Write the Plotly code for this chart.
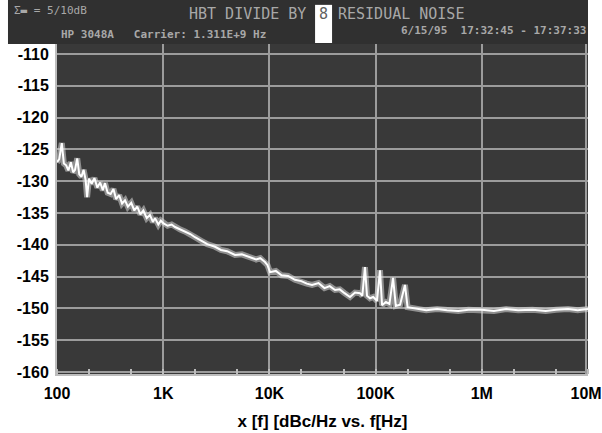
import plotly.graph_objects as go

# ---- data ----
freq_hz = [100, 105, 111, 116, 122, 128, 135, 142, 148, 155, 162, 170, 178, 186, 192,
           200, 212, 225, 240, 255, 270, 283, 300, 320, 340, 360, 385, 410, 437, 465,
           500, 535, 570, 610, 650, 700, 750, 800, 837, 900, 950, 1000, 1100, 1200, 1293,
           1450, 1600, 1800, 1990, 2300, 2600, 3076, 3500, 4000, 4745, 5500, 6560, 7500,
           8200, 9090, 9600, 10140, 11500, 13000, 15000, 17400, 20000, 22500, 25200,
           29000, 33000, 37000, 41500, 46000, 51000, 57400, 64000, 71300, 75000, 79400,
           83000, 88500, 95000, 103000, 110000, 115000, 125000, 135000, 146000, 155000,
           170000, 189000, 200000, 245000, 300000, 380000, 470000, 600000, 750000,
           1000000, 1300000, 1700000, 2200000, 3000000, 4000000, 5000000, 6500000,
           8000000, 10000000]
noise_dbc = [-127.0, -126.5, -124.0, -127.2, -127.5, -128.3, -127.0, -128.6, -128.2, -126.4,
             -128.9, -129.3, -128.2, -129.8, -132.5,
             -129.6, -130.4, -129.5, -131.0, -130.2, -131.4, -130.3, -131.8, -132.0, -131.2,
             -132.8, -132.2, -133.5, -133.0, -134.0,
             -133.4, -134.6, -134.0, -135.2, -134.6, -135.8, -135.3, -136.4, -135.8, -136.8,
             -136.2, -136.6, -137.0, -136.8, -137.2,
             -137.6, -137.9, -138.3, -138.8, -139.4, -139.9, -140.3, -140.8, -141.0, -141.6,
             -141.5, -141.9, -142.3,
             -142.1, -142.7, -143.2, -144.3, -144.1, -144.8, -144.9, -145.5, -145.7, -146.1,
             -146.3,
             -146.0, -146.8, -146.5, -147.1, -147.0, -147.6, -148.2, -147.5, -147.6, -148.0,
             -143.5,
             -148.0, -148.4, -148.2, -148.8, -144.0, -149.5, -149.0, -149.3, -145.2, -149.6,
             -149.4, -146.3, -149.8, -150.0, -150.3, -150.1, -150.3, -150.4, -150.2,
             -150.2, -150.4, -150.1, -150.3, -150.2, -150.4, -150.2, -150.1,
             -150.3, -150.1]

x_tick_vals = [100, 1000, 10000, 100000, 1000000, 9600000]
x_tick_text = ["100", "1K", "10K", "100K", "1M", "10M"]
y_tick_vals = [-110, -115, -120, -125, -130, -135, -140, -145, -150, -155, -160]
y_tick_text = [str(v) for v in y_tick_vals]

BG = "#393939"
GRID = "#9c9c9c"
HDR = "#a8a8a8"

fig = go.Figure()
fig.add_trace(go.Scatter(x=freq_hz, y=noise_dbc, mode="lines",
                         line=dict(color="rgba(215,215,215,0.55)", width=6),
                         hoverinfo="skip", showlegend=False))
fig.add_trace(go.Scatter(x=freq_hz, y=noise_dbc, mode="lines",
                         line=dict(color="#ffffff", width=2),
                         showlegend=False))

# header band of the analyser screen
fig.add_shape(type="rect", xref="paper", yref="paper", x0=-0.0923, x1=1.0, y0=0.8824, y1=1.0,
              fillcolor="#303030", line_width=0, layer="above")
fig.add_shape(type="rect", xref="paper", yref="paper", x0=0.486, x1=0.518, y0=0.885, y1=0.987,
              fillcolor="#ffffff", line_width=0, layer="above")

mono = "DejaVu Sans Mono"
fig.add_annotation(xref="paper", yref="paper", x=0.245, y=0.992, xanchor="left", yanchor="top",
                   text="HBT DIVIDE BY", showarrow=False,
                   font=dict(family=mono, size=15, color=HDR))
fig.add_annotation(xref="paper", yref="paper", x=0.502, y=0.992, xanchor="center", yanchor="top",
                   text="8", showarrow=False,
                   font=dict(family=mono, size=15, color="#606060"))
fig.add_annotation(xref="paper", yref="paper", x=0.525, y=0.992, xanchor="left", yanchor="top",
                   text="RESIDUAL NOISE", showarrow=False,
                   font=dict(family=mono, size=15, color=HDR))
fig.add_annotation(xref="paper", yref="paper", x=-0.085, y=0.995, xanchor="left", yanchor="top",
                   text="Σ▬ = 5/10dB", showarrow=False,
                   font=dict(family=mono, size=11, color=HDR))
fig.add_annotation(xref="paper", yref="paper", x=0.003, y=0.93, xanchor="left", yanchor="top",
                   text="HP 3048A   Carrier: 1.311E+9 Hz", showarrow=False,
                   font=dict(family=mono, size=11, color=HDR, weight="bold"))
fig.add_annotation(xref="paper", yref="paper", x=1.0, y=0.94, xanchor="right", yanchor="top",
                   text="6/15/95  17:32:45 - 17:37:33", showarrow=False,
                   font=dict(family=mono, size=11, color=HDR, weight="bold"))

fig.update_layout(
    width=602, height=433,
    margin=dict(l=57, r=14, t=0, b=59),
    paper_bgcolor="#ffffff",
    plot_bgcolor=BG,
    showlegend=False,
    xaxis=dict(type="log", range=[2, 7], tickvals=x_tick_vals, ticktext=x_tick_text,
               showgrid=True, gridcolor=GRID, gridwidth=2,
               showline=True, linecolor="#bdbdbd", linewidth=2, mirror=False,
               ticks="", zeroline=False, ticklabelstandoff=4,
               tickfont=dict(family="Liberation Sans", size=16, color="#000000", weight="bold"),
               title=dict(text="x [f] [dBc/Hz vs. f[Hz]", standoff=14,
                          font=dict(family="Liberation Sans", size=17, color="#000000",
                                    weight="bold")),
               minor=dict(ticks="inside", ticklen=5, tickcolor="#bdbdbd", tickwidth=2,
                          showgrid=False)),
    yaxis=dict(range=[-160.31, -101.5], tickvals=y_tick_vals, ticktext=y_tick_text,
               showgrid=True, gridcolor=GRID, gridwidth=2,
               showline=True, linecolor="#bdbdbd", linewidth=2,
               ticks="", zeroline=False, ticklabelstandoff=3,
               tickfont=dict(family="Liberation Sans", size=16, color="#000000", weight="bold")),
)

fig.write_html("out.html", config={"displayModeBar": False})

# remove the default page margin so the figure sits at the window's top-left corner
with open("out.html", "r", encoding="utf-8") as fh:
    page = fh.read()
page = page.replace("<body>", '<body style="margin:0;padding:0">', 1)
page = page.replace("<head>", "<head><style>html,body{margin:0;padding:0;}</style>", 1)
with open("out.html", "w", encoding="utf-8") as fh:
    fh.write(page)
